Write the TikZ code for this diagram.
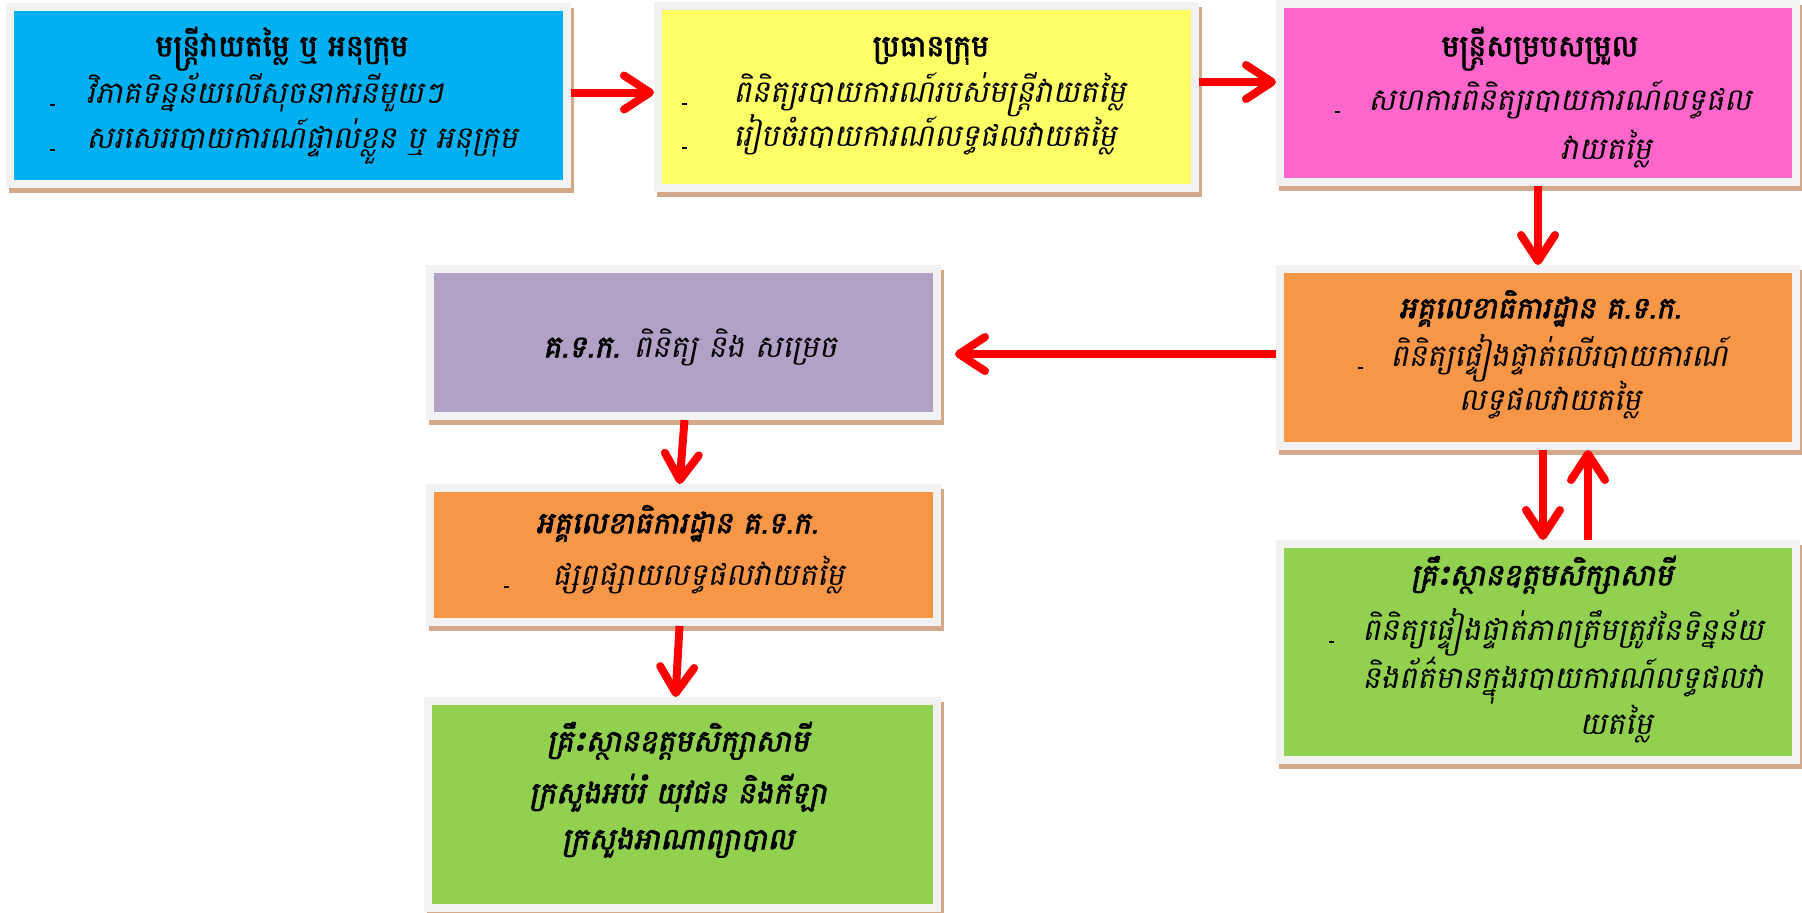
\documentclass[tikz,border=0pt]{standalone}
\usepackage{fontspec}
\newfontfamily\km[Script=Khmer]{Battambang}
\newfontfamily\kmi[Script=Khmer,FakeSlant=0.2]{Battambang}
\newfontfamily\kmb[Script=Khmer,FakeBold=2.4]{Battambang}
\newfontfamily\kmbi[Script=Khmer,FakeSlant=0.2,FakeBold=2.4]{Battambang}
\usetikzlibrary{arrows.meta,shadows}
\definecolor{cblue}{HTML}{00B0F0}
\definecolor{cyellow}{HTML}{FFFF66}
\definecolor{cpink}{HTML}{FF66CC}
\definecolor{corange}{HTML}{F79646}
\definecolor{cpurple}{HTML}{B2A1C7}
\definecolor{cgreen}{HTML}{92D050}
\definecolor{frameg}{HTML}{F2F2F2}
\definecolor{shadowc}{HTML}{D3A98A}
\definecolor{arrred}{HTML}{FF0000}
\tikzset{
  boxframe/.style={fill=frameg, draw=none, inner sep=0pt, outer sep=0pt,
    general shadow={fill=shadowc, shadow xshift=1.5pt, shadow yshift=-2.5pt},
    path picture={\fill[#1] ([shift={(4pt,-4pt)}]path picture bounding box.north west) rectangle ([shift={(-4pt,4pt)}]path picture bounding box.south east);}},
  ttl/.style={inner sep=0pt, anchor=mid, font=\kmb\fontsize{15pt}{18pt}\selectfont},
  ttli/.style={inner sep=0pt, anchor=mid, font=\kmbi\fontsize{15pt}{18pt}\selectfont},
  bodyl/.style={inner sep=0pt, anchor=mid west, font=\kmi\fontsize{15.3pt}{18pt}\selectfont},
  bodyc/.style={inner sep=0pt, anchor=mid, font=\kmi\fontsize{15.3pt}{18pt}\selectfont},
  dashmk/.style={fill=black, inner sep=0pt, minimum width=2.5pt, minimum height=0.9pt},
  arr/.style={draw=arrred, line width=4pt, -{Straight Barb[round, length=13pt, width=17pt]}}
}
\begin{document}
\begin{tikzpicture}[x=0.5pt,y=-0.5pt]
\useasboundingbox (0,0) rectangle (1802,912);
% boxes
\node[boxframe=cblue,   minimum width=282.5pt, minimum height=92.5pt] (b1) at (288.5,95.5) {};
\node[boxframe=cyellow, minimum width=272.5pt, minimum height=95pt]   (b2) at (926.5,97) {};
\node[boxframe=cpink,   minimum width=262pt,   minimum height=93pt]   (b3) at (1538,93) {};
\node[boxframe=corange, minimum width=262pt,   minimum height=92.5pt] (b4) at (1538,357.5) {};
\node[boxframe=cpurple, minimum width=257.5pt, minimum height=77.5pt] (b5) at (683.5,342.5) {};
\node[boxframe=corange, minimum width=257.5pt, minimum height=71pt]   (b6) at (683.5,555) {};
\node[boxframe=cgreen,  minimum width=262pt,   minimum height=112pt]  (b7) at (1538,652) {};
\node[boxframe=cgreen,  minimum width=258.5pt, minimum height=107.5pt] (b8) at (682.5,804.5) {};
\begin{scope}[yshift=-3pt]
% texts box 1
\node[ttl] (t1a) at (282,46) {មន្ត្រីវាយតម្លៃ ឬ អនុក្រុម};
\node[dashmk] (d1b) at (52,99) {};
\node[bodyl] (t1b) at (86,93) {វិភាគទិន្នន័យលើសុចនាករនីមួយៗ};
\node[dashmk] (d1c) at (52,144) {};
\node[bodyl] (t1c) at (86,138) {សរសេររបាយការណ៍ផ្ទាល់ខ្លួន ឬ អនុក្រុម};
% box 2
\node[ttl] (t2a) at (931,46) {ប្រធានក្រុម};
\node[dashmk] (d2b) at (684,98) {};
\node[bodyl] (t2b) at (733,92) {ពិនិត្យរបាយការណ៍របស់មន្ត្រីវាយតម្លៃ};
\node[dashmk] (d2c) at (684,142) {};
\node[bodyl] (t2c) at (733,136) {រៀបចំរបាយការណ៍លទ្ធផលវាយតម្លៃ};
% box 3
\node[ttl] (t3a) at (1540,46) {មន្ត្រីសម្របសម្រួល};
\node[dashmk] (d3b) at (1337,106) {};
\node[bodyl] (t3b) at (1368,100) {សហការពិនិត្យរបាយការណ៍លទ្ធផល};
\node[bodyc] (t3c) at (1606,149) {វាយតម្លៃ};
% box 4
\node[ttli] (t4a) at (1540,308) {អគ្គលេខាធិការដ្ឋាន គ.ទ.ក.};
\node[dashmk] (d4b) at (1360,362) {};
\node[bodyl] (t4b) at (1390,356) {ពិនិត្យផ្ទៀងផ្ទាត់លើរបាយការណ៍};
\node[bodyc] (t4c) at (1550,400) {លទ្ធផលវាយតម្លៃ};
% box 5
\node[bodyc] (t5a) at (690,347) {{\kmbi គ.ទ.ក.} ពិនិត្យ និង សម្រេច};
% box 6
\node[ttli] (t6a) at (677,523) {អគ្គលេខាធិការដ្ឋាន គ.ទ.ក.};
\node[dashmk] (d6b) at (506,581) {};
\node[bodyl] (t6b) at (552,575) {ផ្សព្វផ្សាយលទ្ធផលវាយតម្លៃ};
% box 7
\node[ttli] (t7a) at (1542,575) {គ្រឹះស្ថានឧត្តមសិក្សាសាមី};
\node[dashmk] (d7b) at (1331,636) {};
\node[bodyl] (t7b) at (1362,630) {ពិនិត្យផ្ទៀងផ្ទាត់ភាពត្រឹមត្រូវនៃទិន្នន័យ};
\node[bodyl] (t7c) at (1362,678) {និងព័ត៌មានក្នុងរបាយការណ៍លទ្ធផលវា};
\node[bodyc] (t7d) at (1616,724) {យតម្លៃ};
% box 8
\node[ttli] (t8a) at (678,741) {គ្រឹះស្ថានឧត្តមសិក្សាសាមី};
\node[ttli] (t8b) at (678,793) {ក្រសួងអប់រំ យុវជន និងកីឡា};
\node[ttli] (t8c) at (678,839) {ក្រសួងអាណាព្យាបាល};
\end{scope}
% arrows
\draw[arr] ([yshift=1.5pt]b1.east) -- ([yshift=1.5pt]b1.east -| b2.west);
\draw[arr] ([yshift=7.5pt]b2.east) -- ([yshift=7.5pt]b2.east -| b3.west);
\draw[arr] (b3.south) -- (b4.north);
\draw[arr, shorten >=7pt] ([yshift=1.75pt]b4.west) -- ([yshift=1.75pt]b4.west -| b5.east);
\draw[arr] ([xshift=0.5pt]b5.south) -- ([xshift=-2pt]b6.north);
\draw[arr] ([xshift=-2pt]b6.south) -- ([xshift=-3.5pt]b8.north);
\draw[arr] ([xshift=2.5pt]b4.south) -- ([xshift=2.5pt]b7.north);
\draw[arr] ([xshift=25pt]b7.north) -- ([xshift=25pt]b4.south);
\end{tikzpicture}
\end{document}
